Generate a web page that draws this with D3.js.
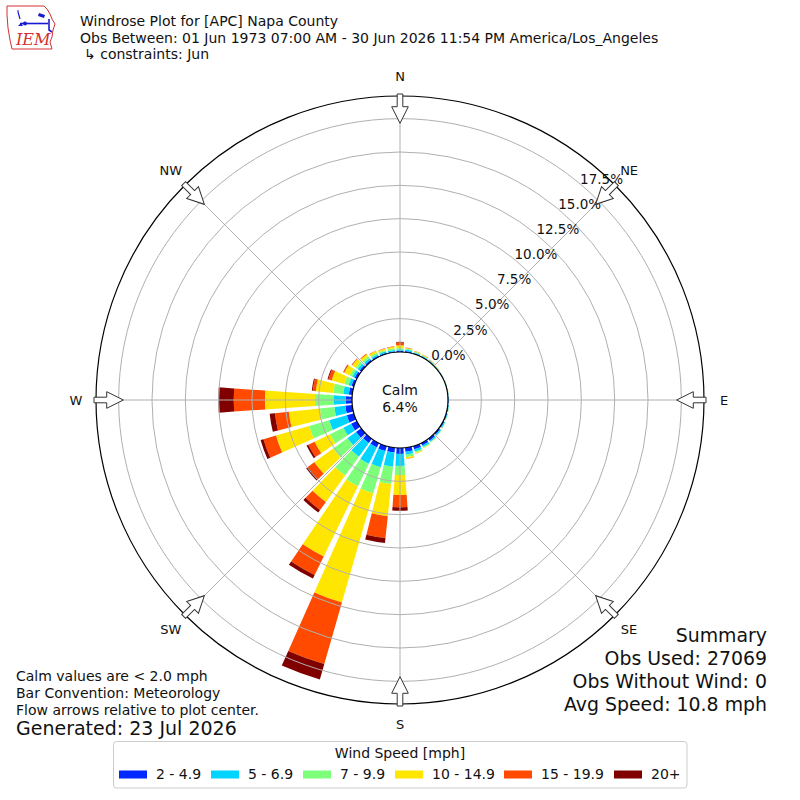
<!DOCTYPE html>
<html>
<head>
<meta charset="utf-8">
<script src="https://cdn.jsdelivr.net/npm/d3@7"></script>
<style>
  html, body { margin: 0; padding: 0; background: #fff; }
  svg { display: block; font-family: "DejaVu Sans", sans-serif; }
</style>
</head>
<body>
<svg id="chart" width="800" height="800"></svg>
<script>
// ---------------- DATA ----------------
const directions = [0,10,20,30,40,50,60,70,80,90,100,110,120,130,140,150,160,170,
                    180,190,200,210,220,230,240,250,260,270,280,290,300,310,320,330,340,350];
const speedBins = ["2 - 4.9", "5 - 6.9", "7 - 9.9", "10 - 14.9", "15 - 19.9", "20+"];
const speedColors = ["#0028ff", "#00d4ff", "#7dff7a", "#ffe600", "#ff4a00", "#800000"];
// frequency (%) per direction for each speed class
const spd2to5   = [0.10,0.10,0.07,0.06,0.05,0.04,0.04,0.04,0.04,0.05,0.06,0.08,0.10,0.12,0.17,0.20,0.25,0.30,
                   0.45,0.36,0.38,0.36,0.38,0.48,0.48,0.55,0.52,0.48,0.26,0.19,0.19,0.15,0.12,0.10,0.08,0.08];
const spd5to7   = [0.10,0.10,0.06,0.05,0.05,0.04,0.03,0.03,0.03,0.03,0.04,0.05,0.08,0.10,0.11,0.13,0.17,0.22,
                   0.90,1.07,1.27,1.37,1.27,0.80,0.65,1.37,0.83,0.92,0.42,0.22,0.19,0.19,0.16,0.12,0.12,0.10];
const spd7to10  = [0.10,0.08,0.05,0.04,0.03,0.02,0.01,0.01,0.01,0.01,0.02,0.02,0.02,0.03,0.04,0.07,0.10,0.19,
                   0.68,1.31,2.03,1.87,1.75,1.32,1.12,1.57,1.09,1.38,0.75,0.34,0.22,0.19,0.17,0.13,0.10,0.12];
const spd10to15 = [0.20,0.05,0.04,0.05,0.03,0.02,0.01,0.01,0.01,0.01,0.01,0.01,0.01,0.01,0.02,0.03,0.06,0.12,
                   1.50,2.42,8.52,5.85,2.45,1.75,1.28,2.59,2.35,3.75,1.32,0.98,0.45,0.30,0.20,0.15,0.12,0.12];
const spd15to20 = [0.22,0.02,0.02,0.02,0.01,0.00,0.00,0.00,0.00,0.00,0.00,0.00,0.00,0.00,0.00,0.00,0.01,0.02,
                   0.92,1.65,4.80,1.55,0.75,0.60,0.52,0.97,1.04,2.34,0.23,0.26,0.08,0.05,0.05,0.03,0.03,0.03];
const spd20plus = [0.04,0.00,0.00,0.00,0.00,0.00,0.00,0.00,0.00,0.00,0.00,0.00,0.00,0.00,0.00,0.00,0.00,0.00,
                   0.25,0.38,1.20,0.30,0.23,0.15,0.15,0.23,0.40,1.16,0.07,0.07,0.02,0.01,0.00,0.00,0.00,0.00];
const ringValues = [2.5, 5.0, 7.5, 10.0, 12.5, 15.0, 17.5];
const ringLabels = ["0.0%","2.5%","5.0%","7.5%","10.0%","12.5%","15.0%","17.5%"];
const compassNames = ["N","NE","E","SE","S","SW","W","NW"];
const compassAngles = [0,45,90,135,180,225,270,315];
const calmPercent = "6.4%";
const titleLines = ["Windrose Plot for [APC] Napa County",
                    "Obs Between: 01 Jun 1973 07:00 AM - 30 Jun 2026 11:54 PM America/Los_Angeles",
                    "\u21b3 constraints: Jun"];
const noteLines = ["Calm values are < 2.0 mph", "Bar Convention: Meteorology", "Flow arrows relative to plot center."];
const generatedText = "Generated: 23 Jul 2026";
const summaryLines = ["Summary", "Obs Used: 27069", "Obs Without Wind: 0", "Avg Speed: 10.8 mph"];
const legendTitle = "Wind Speed [mph]";

// ---------------- DRAW ----------------
const svg = d3.select("#chart");
svg.append("rect").attr("width", 800).attr("height", 800).attr("fill", "#fff");
const cx = 400, cy = 400;
const calmR = 48, outerR = 304;
const rScale = d3.scaleLinear().domain([0, 17.5]).range([calmR, calmR + 7 * 33.333]);
const deg = Math.PI / 180;

const g = svg.append("g").attr("transform", `translate(${cx},${cy})`);

// bars
const keys = ["s0","s1","s2","s3","s4","s5"];
const series = [spd2to5, spd5to7, spd7to10, spd10to15, spd15to20, spd20plus];
const rows = directions.map((d, i) => {
  const o = {dir: d};
  keys.forEach((k, j) => o[k] = series[j][i]);
  return o;
});
const stacked = d3.stack().keys(keys)(rows);
const arc = d3.arc();
stacked.forEach((layer, j) => {
  g.append("g").selectAll("path").data(layer).join("path")
    .attr("d", d => arc({
      innerRadius: rScale(d[0]),
      outerRadius: rScale(d[1]),
      startAngle: (d.data.dir - 4) * deg,
      endAngle: (d.data.dir + 4) * deg
    }))
    .attr("fill", speedColors[j]);
});

// grid rings
g.append("g").selectAll("circle").data(ringValues).join("circle")
  .attr("r", d => rScale(d)).attr("fill", "none")
  .attr("stroke", "#b0b0b0").attr("stroke-width", 1);
// radial lines
g.append("g").selectAll("line").data(compassAngles).join("line")
  .attr("x1", d => calmR * Math.sin(d * deg)).attr("y1", d => -calmR * Math.cos(d * deg))
  .attr("x2", d => outerR * Math.sin(d * deg)).attr("y2", d => -outerR * Math.cos(d * deg))
  .attr("stroke", "#b0b0b0").attr("stroke-width", 1);

// calm circle
g.append("circle").attr("r", calmR).attr("fill", "#fff").attr("stroke", "#000").attr("stroke-width", 1.2);
g.append("text").attr("x", 0).attr("y", -5).attr("text-anchor", "middle")
  .attr("font-size", 14).attr("fill", "#111").text("Calm");
g.append("text").attr("x", 0).attr("y", 12).attr("text-anchor", "middle")
  .attr("font-size", 14).attr("fill", "#111").text(calmPercent);

// outer circle
g.append("circle").attr("r", outerR).attr("fill", "none").attr("stroke", "#000").attr("stroke-width", 1.2);

// ring labels
const la = 41 * deg;
g.append("g").selectAll("text").data(ringLabels).join("text")
  .attr("x", (d, i) => rScale(i * 2.5) * Math.sin(la) + 17)
  .attr("y", (d, i) => -rScale(i * 2.5) * Math.cos(la) - 9)
  .attr("text-anchor", "middle").attr("dominant-baseline", "central")
  .attr("font-size", 13.5).attr("fill", "#111").text(d => d);

// compass arrows
const arrowPath = "M-2.8,-306 L2.8,-306 L2.8,-293.3 L8.3,-293.3 L0,-276.7 L-8.3,-293.3 L-2.8,-293.3 Z";
g.append("g").selectAll("path").data(compassAngles).join("path")
  .attr("d", arrowPath).attr("transform", d => `rotate(${d})`)
  .attr("fill", "#fff").attr("stroke", "#333").attr("stroke-width", 1);

// compass labels
g.append("g").selectAll("text").data(compassNames).join("text")
  .attr("x", (d, i) => 324 * Math.sin(compassAngles[i] * deg))
  .attr("y", (d, i) => -324 * Math.cos(compassAngles[i] * deg))
  .attr("text-anchor", "middle").attr("dominant-baseline", "central")
  .attr("font-size", 13).attr("fill", "#111").text(d => d);

// title
svg.append("g").selectAll("text").data(titleLines).join("text")
  .attr("x", (d, i) => i === 2 ? 84 : 80)
  .attr("y", (d, i) => 26 + i * 16.7)
  .attr("font-size", 14).attr("fill", "#111").text(d => d);

// IEM logo
const logo = svg.append("g");
logo.append("path")
  .attr("d", "M7,6 L44,6 L47,9 L50,14 L52,19 L55,24 L53,30 L52,37 L50,42 L52,49 L12,49 L10,40 L8,28 L7,15 Z")
  .attr("fill", "#fff").attr("stroke", "#d43030").attr("stroke-width", 1);
logo.append("line").attr("x1", 20).attr("y1", 23.5).attr("x2", 48).attr("y2", 23.5)
  .attr("stroke", "#1a1ad0").attr("stroke-width", 1.6);
logo.append("circle").attr("cx", 25).attr("cy", 23.5).attr("r", 2).attr("fill", "#1a1ad0");
logo.append("path").attr("d", "M18,12 L20,19 M17,11 L19,11").attr("stroke", "#1a1ad0").attr("stroke-width", 1.2).attr("fill", "none");
logo.append("path").attr("d", "M39,13 L45,15 L44,18 L38,16 Z").attr("fill", "#1a1ad0");
logo.append("path").attr("d", "M49,19 L49,30 L52,32").attr("stroke", "#1a1ad0").attr("stroke-width", 1.6).attr("fill", "none");
logo.append("path").attr("d", "M18,26 L21,23 L23,26 Z").attr("fill", "#1a1ad0");
logo.append("text").attr("x", 16).attr("y", 45).attr("font-family", "DejaVu Serif, serif")
  .attr("font-style", "italic").attr("font-size", 16).attr("fill", "#d43030").text("IEM");

// notes bottom-left
svg.append("g").selectAll("text").data(noteLines).join("text")
  .attr("x", 16).attr("y", (d, i) => 681 + i * 17)
  .attr("font-size", 14).attr("fill", "#111").text(d => d);
svg.append("text").attr("x", 16).attr("y", 735).attr("font-size", 19).attr("fill", "#111").text(generatedText);

// summary bottom-right
svg.append("g").selectAll("text").data(summaryLines).join("text")
  .attr("x", 767).attr("y", (d, i) => 642 + i * 23.1)
  .attr("text-anchor", "end").attr("font-size", 18.9).attr("fill", "#111").text(d => d);

// legend
const leg = svg.append("g");
leg.append("rect").attr("x", 113.5).attr("y", 741.5).attr("width", 573.5).attr("height", 46.5)
  .attr("rx", 3).attr("fill", "#fff").attr("stroke", "#cccccc").attr("stroke-width", 1);
leg.append("text").attr("x", 400).attr("y", 757.5).attr("text-anchor", "middle")
  .attr("font-size", 14).attr("fill", "#111").text(legendTitle);
const swatchX = [119, 211, 303, 395, 504, 614];
speedBins.forEach((lab, i) => {
  leg.append("rect").attr("x", swatchX[i]).attr("y", 770.5).attr("width", 28).attr("height", 8)
    .attr("fill", speedColors[i]);
  leg.append("text").attr("x", swatchX[i] + 37).attr("y", 778.5)
    .attr("font-size", 14).attr("fill", "#111").text(lab);
});
</script>
</body>
</html>
